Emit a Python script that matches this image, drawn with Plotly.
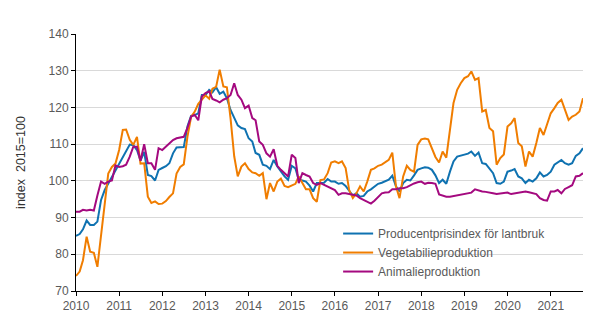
import pandas as pd
import plotly.graph_objects as go

months = pd.date_range("2010-01-01", periods=142, freq="MS")

producentprisindex = [
    85.0, 85.5, 86.8, 89.2, 88.0, 88.0, 88.9, 94.8, 97.5, 99.3, 101.1, 102.9,
    104.9, 106.5, 108.4, 109.9, 109.7, 108.4, 105.5, 107.9, 101.6, 101.3, 100.1, 103.0,
    103.5, 104.0, 104.8, 107.5, 109.1, 109.2, 109.2, 114.8, 117.7, 117.9, 118.4, 123.4,
    123.4, 124.8, 124.1, 125.5, 123.7, 124.3, 122.5, 119.3, 117.1, 115.1, 114.4, 114.1,
    111.6, 110.7, 107.6, 107.1, 104.4, 104.1, 103.2, 105.7, 103.9, 102.6, 101.2, 100.3,
    104.1, 103.4, 100.3, 100.1, 99.8, 98.7, 97.1, 99.4, 99.5, 99.5, 100.5, 99.8,
    99.8, 99.2, 99.4, 98.6, 97.3, 96.0, 96.6, 95.7, 95.9, 97.1, 97.7, 98.5,
    99.2, 99.5, 99.8, 100.3, 101.4, 98.5, 97.1, 99.4, 100.3, 100.1, 101.5, 103.0,
    103.4, 103.7, 103.6, 103.0, 101.5, 99.4, 100.3, 99.2, 102.5, 105.3, 106.6, 106.8,
    107.1, 107.4, 108.0, 106.8, 107.7, 104.8, 104.6, 103.4, 102.1, 99.4, 99.2, 99.8,
    102.5, 102.8, 103.2, 101.2, 100.7, 99.4, 100.3, 99.8, 100.7, 102.3, 101.2, 101.6,
    102.5, 104.4, 105.0, 105.7, 104.8, 104.4, 104.8, 106.8, 107.5, 108.9,
]

vegetabilieproduktion = [
    74.1, 75.3, 78.4, 84.8, 80.7, 80.4, 76.6, 85.7, 93.9, 102.0, 103.8, 104.7,
    108.4, 113.9, 114.0, 111.2, 109.8, 112.0, 104.7, 104.8, 95.7, 94.0, 94.4, 93.7,
    93.8, 94.5, 95.6, 96.6, 102.0, 103.8, 104.5, 112.0, 117.4, 118.8, 121.0, 122.0,
    123.3, 122.4, 125.1, 125.6, 130.3, 125.7, 125.5, 117.0, 106.7, 101.2, 103.9, 104.8,
    103.2, 102.3, 102.1, 101.4, 102.1, 95.0, 99.4, 97.1, 99.8, 100.6, 98.6, 98.3,
    98.7, 99.2, 101.2, 99.4, 97.7, 97.7, 95.3, 94.3, 100.2, 100.4, 102.1, 105.0,
    105.3, 104.8, 105.3, 103.5, 97.5, 95.3, 96.6, 98.5, 97.1, 99.8, 103.0, 103.4,
    104.1, 104.4, 105.0, 105.7, 107.7, 98.5, 95.3, 101.2, 104.1, 103.0, 102.5, 109.8,
    111.3, 111.5, 111.3, 109.0, 106.5, 105.0, 108.0, 106.3, 113.9, 121.2, 124.8, 126.6,
    128.0, 128.5, 129.8, 127.5, 128.0, 118.9, 119.3, 114.4, 113.5, 104.4, 106.2, 107.2,
    114.8, 115.7, 117.1, 110.3, 109.4, 103.9, 108.0, 106.6, 110.3, 114.4, 112.5, 115.3,
    118.4, 119.8, 121.2, 122.1, 119.3, 116.6, 117.5, 118.0, 118.9, 122.5,
]

animalieproduktion = [
    91.6, 91.6, 92.1, 91.9, 92.1, 91.9, 96.0, 99.8, 99.2, 99.8, 100.1, 104.2,
    103.8, 104.0, 104.4, 106.6, 109.3, 109.3, 105.5, 110.0, 104.8, 104.8, 103.0, 108.9,
    108.4, 109.3, 110.0, 111.1, 111.6, 111.9, 112.0, 114.4, 117.5, 118.0, 116.5, 123.0,
    123.9, 124.4, 122.3, 121.9, 121.4, 122.1, 122.5, 123.4, 126.6, 123.4, 122.1, 119.8,
    120.5, 117.1, 116.5, 110.7, 109.8, 107.5, 106.6, 108.6, 104.1, 103.0, 102.0, 101.2,
    107.1, 106.2, 99.4, 102.1, 101.6, 101.2, 99.4, 98.9, 99.4, 98.9, 98.5, 98.0,
    97.5, 96.2, 96.6, 96.6, 96.4, 96.4, 96.0, 95.3, 94.8, 94.1, 93.8, 94.6,
    95.7, 96.6, 96.8, 96.9, 97.7, 97.7, 98.0, 98.0, 98.3, 98.9, 99.3, 99.6,
    99.8, 99.2, 99.5, 99.4, 99.2, 96.3, 96.0, 95.7, 95.7, 95.9, 96.0, 96.2,
    96.4, 96.6, 96.8, 97.7, 97.3, 97.1, 97.0, 96.9, 96.6, 96.4, 96.5, 96.6,
    96.8, 96.4, 96.6, 96.8, 96.9, 97.1, 96.9, 96.6, 96.4, 95.3, 94.8, 94.6,
    97.1, 97.1, 97.5, 96.6, 97.8, 98.3, 98.8, 101.2, 101.4, 102.1,
]

series = [
    ("Producentprisindex för lantbruk", producentprisindex, "#0F72B1"),
    ("Vegetabilieproduktion", vegetabilieproduktion, "#F07D00"),
    ("Animalieproduktion", animalieproduktion, "#A4097F"),
]

y_ticks = [70, 80, 90, 100, 110, 120, 130, 140]

fig = go.Figure()
for name, vals, col in series:
    fig.add_trace(go.Scatter(x=months, y=vals, mode="lines", name=name,
                             line=dict(color=col, width=2)))

font = "Liberation Sans, Arial, sans-serif"
fig.update_layout(
    width=606, height=329,
    margin=dict(l=76, r=23, t=34, b=38),
    paper_bgcolor="white", plot_bgcolor="white",
    font=dict(family=font, size=12, color="#595959"),
    showlegend=True,
    legend=dict(x=0.517, y=0.28, xanchor="left", yanchor="top",
                bgcolor="rgba(0,0,0,0)", font=dict(size=12, color="#595959"),
                tracegroupgap=0, itemwidth=30),
    shapes=[dict(type="rect", xref="paper", yref="paper",
                 x0=0.487, x1=0.984, y0=0.03, y1=0.25,
                 fillcolor="white", line=dict(width=0), layer="between")],
)
fig.update_xaxes(
    type="date", range=[months[0], months[-1]],
    tick0="2010-01-01", dtick="M12", tickformat="%Y",
    ticks="outside", ticklen=4, tickcolor="#000000",
    showline=True, linecolor="#000000", linewidth=1,
    showgrid=False, zeroline=False,
    tickfont=dict(size=12, color="#595959"),
)
fig.update_yaxes(
    range=[70, 140], tickvals=y_ticks,
    ticks="outside", ticklen=4, tickcolor="#000000",
    showline=True, linecolor="#000000", linewidth=1,
    showgrid=True, gridcolor="#D9D9D9", gridwidth=1, zeroline=False,
    tickfont=dict(size=12, color="#595959"),
    title=dict(text="index  2015=100", font=dict(size=12.5, color="#333333"), standoff=20),
)

fig.write_html("out.html")
